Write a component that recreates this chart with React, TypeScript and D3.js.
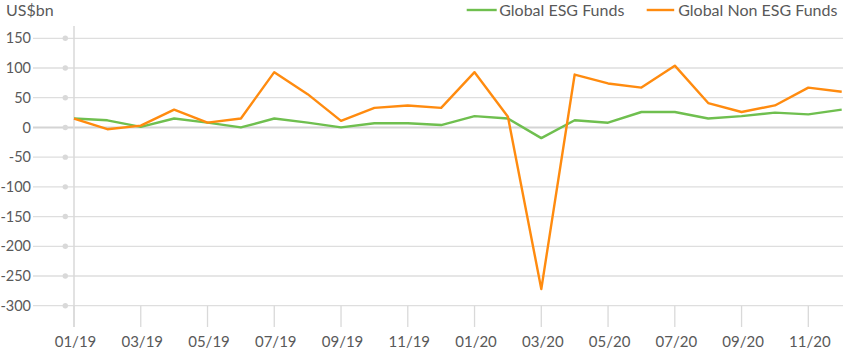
import { useEffect, useRef } from 'react';
import * as d3 from 'd3';

const months = [
  '01/19', '02/19', '03/19', '04/19', '05/19', '06/19', '07/19', '08/19', '09/19', '10/19', '11/19', '12/19',
  '01/20', '02/20', '03/20', '04/20', '05/20', '06/20', '07/20', '08/20', '09/20', '10/20', '11/20', '12/20',
];
const esgFlows = [15, 12, 1, 15, 8, 0, 15, 8, 0, 7, 7, 4, 19, 15, -18, 12, 8, 26, 26, 15, 19, 25, 22, 30];
const nonEsgFlows = [15, -3, 3, 30, 8, 15, 93, 56, 11, 33, 37, 33, 93, 18, -272, 89, 74, 67, 104, 41, 26, 37, 67, 60];
const yTicks = [150, 100, 50, 0, -50, -100, -150, -200, -250, -300];
const xTickLabels = ['01/19', '03/19', '05/19', '07/19', '09/19', '11/19', '01/20', '03/20', '05/20', '07/20', '09/20', '11/20'];

const seriesNames = ['Global ESG Funds', 'Global Non ESG Funds'];
const seriesColors = ['#6fbf4f', '#ff8b0f'];

const FONT = 'Lato, "Open Sans", sans-serif';
const TEXT = '#595959';
const GRID = '#dedede';

const FundFlowsChart = () => {
  const svgRef = useRef<SVGSVGElement>(null);

  useEffect(() => {
    const svg = d3.select(svgRef.current);
    svg.selectAll('*').remove();

    const width = 843;
    const height = 353;
    svg.attr('width', width).attr('height', height);

    const x = d3.scalePoint<string>().domain(months).range([74, 841.7]);
    const y = d3.scaleLinear().domain([-300, 150]).range([305.7, 38.3]);

    // gridlines, running out to the left of the axis
    svg.append('g')
      .selectAll('line')
      .data(yTicks)
      .enter().append('line')
      .attr('x1', 33)
      .attr('x2', width)
      .attr('y1', d => y(d))
      .attr('y2', d => y(d))
      .attr('stroke', d => (d === 0 ? '#d4d4d4' : GRID))
      .attr('stroke-width', d => (d === 0 ? 2 : 1.3));

    // little dots on the gridlines
    svg.append('g')
      .selectAll('circle')
      .data(yTicks)
      .enter().append('circle')
      .attr('cx', 65.3)
      .attr('cy', d => y(d))
      .attr('r', 2.7)
      .attr('fill', '#d9d9d9');

    // y labels
    svg.append('g')
      .selectAll('text')
      .data(yTicks)
      .enter().append('text')
      .attr('x', 31)
      .attr('y', d => y(d))
      .attr('dy', '0.35em')
      .attr('text-anchor', 'end')
      .style('font-family', FONT)
      .style('font-size', '14.5px')
      .style('fill', TEXT)
      .text(d => d);

    // vertical axis line
    svg.append('line')
      .attr('x1', x(months[0])!)
      .attr('x2', x(months[0])!)
      .attr('y1', 26)
      .attr('y2', 327)
      .attr('stroke', '#d9d9d9')
      .attr('stroke-width', 1.5);

    // x tick marks + labels
    const xt = svg.append('g')
      .selectAll('g')
      .data(xTickLabels)
      .enter().append('g')
      .attr('transform', d => `translate(${x(d)},0)`);

    xt.append('line')
      .attr('y1', y(-300))
      .attr('y2', 327)
      .attr('stroke', '#d9d9d9')
      .attr('stroke-width', 1.3);

    xt.append('text')
      .attr('x', 1.5)
      .attr('y', 347)
      .attr('text-anchor', 'middle')
      .style('font-family', FONT)
      .style('font-size', '15px')
      .style('fill', TEXT)
      .text(d => d);

    // unit label
    svg.append('text')
      .attr('x', 6)
      .attr('y', 16)
      .style('font-family', FONT)
      .style('font-size', '16px')
      .style('fill', TEXT)
      .text('US$bn');

    // lines
    const line = d3.line<number>()
      .x((_, i) => x(months[i])!)
      .y(d => y(d));

    [esgFlows, nonEsgFlows].forEach((vals, i) => {
      svg.append('path')
        .datum(vals)
        .attr('d', line)
        .attr('fill', 'none')
        .attr('stroke', seriesColors[i])
        .attr('stroke-width', 2.4)
        .attr('stroke-linejoin', 'round');
    });

    // legend
    const legendX = [466.7, 646.7];
    seriesNames.forEach((name, i) => {
      const lg = svg.append('g').attr('transform', `translate(${legendX[i]},10)`);
      lg.append('line')
        .attr('x1', 0)
        .attr('x2', i === 0 ? 30 : 27.5)
        .attr('stroke', seriesColors[i])
        .attr('stroke-width', 2.4);
      lg.append('text')
        .attr('x', i === 0 ? 32.5 : 31.5)
        .attr('dy', '0.35em')
        .style('font-family', FONT)
        .style('font-size', '16px')
        .style('fill', TEXT)
        .text(name);
    });
  }, []);

  return <svg ref={svgRef} style={{ position: 'absolute', left: 0, top: 0 }}></svg>;
};

export default function App() {
  return <FundFlowsChart />;
}
